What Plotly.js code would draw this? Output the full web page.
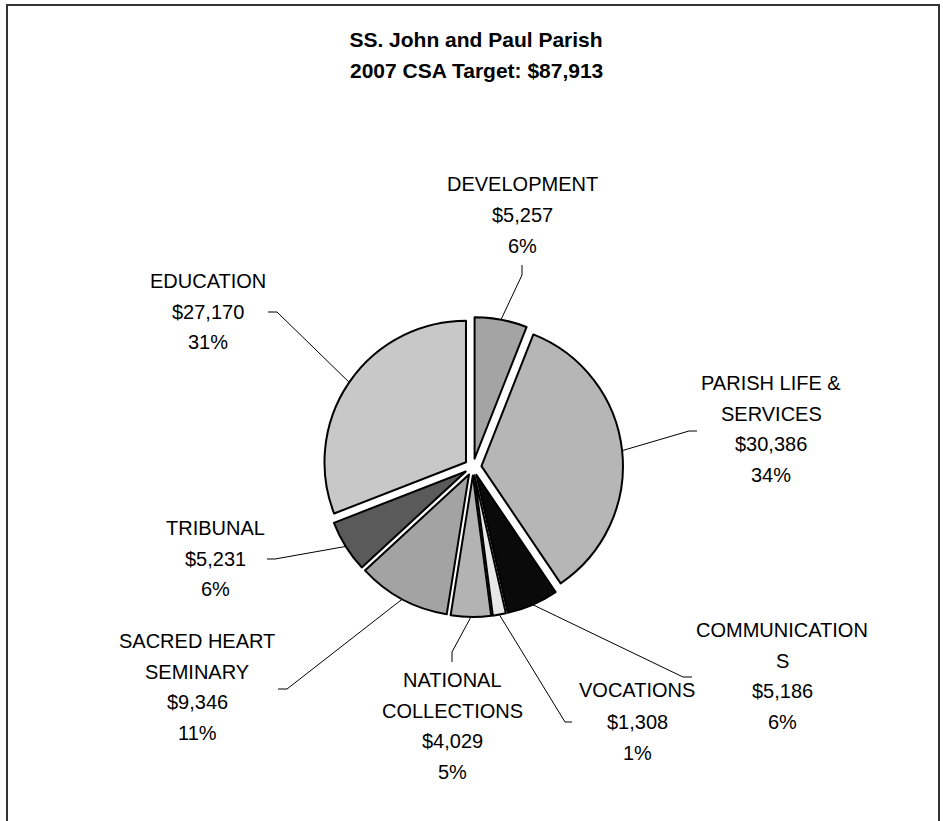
<!DOCTYPE html>
<html>
<head>
<meta charset="utf-8">
<script src="https://cdn.plot.ly/plotly-3.0.1.min.js"></script>
<style>html,body{margin:0;padding:0;background:#fff;}#chart{width:943px;height:821px;}</style>
</head>
<body>
<div id="chart"></div>
<script>
// ---- data ----
const categories = ["DEVELOPMENT", "PARISH LIFE &<br>SERVICES", "COMMUNICATION<br>S", "VOCATIONS",
                    "NATIONAL<br>COLLECTIONS", "SACRED HEART<br>SEMINARY", "TRIBUNAL", "EDUCATION"];
const values = [5257, 30386, 5186, 1308, 4029, 9346, 5231, 27170];
const percents = [6, 34, 6, 1, 5, 11, 6, 31];
const colors = ["#a4a4a4", "#b6b6b6", "#0a0a0a", "#e8e8e8", "#b3b3b3", "#a3a3a3", "#5a5a5a", "#c8c8c8"];
const titleLine1 = "SS. John and Paul Parish";
const titleLine2 = "2007 CSA Target: $87,913";

// ---- layout constants (pixels) ----
const W = 943, H = 821;
const cx = 473, cy = 467, half = 150, pull = 0.06;
// label centre x, first-line centre y, line step; leader start and elbow
const labelPos = [
  {x: 522, y: 184, s: 31, p0: [522, 265], p1: [522, 275]},
  {x: 771, y: 383, s: 30.7, p0: [697, 431], p1: [689, 431]},
  {x: 782, y: 630, s: 30.7, p0: [692, 677], p1: [683, 677]},
  {x: 637, y: 690, s: 31.5, p0: [572, 722], p1: [565, 722]},
  {x: 452, y: 680, s: 30.5, p0: [452, 662], p1: [452, 652]},
  {x: 197, y: 641, s: 30.7, p0: [278, 689], p1: [287, 689]},
  {x: 215, y: 528, s: 30.5, p0: [267, 559], p1: [275, 559]},
  {x: 208, y: 281, s: 30.5, p0: [268, 312], p1: [277, 312]}
];

const px = x => x / W;
const py = y => 1 - y / H;
const font = {family: "Liberation Sans, Arial, sans-serif", size: 20, color: "#000"};

const total = values.reduce((a, b) => a + b, 0);
let cum = 0;
const annotations = [];
const shapes = [];
values.forEach((v, i) => {
  const mid = (cum + v / 2) / total * 2 * Math.PI; // clockwise from 12 o'clock
  cum += v;
  const tip = [cx + half * Math.sin(mid), cy - half * Math.cos(mid)];
  const L = labelPos[i];
  const lines = categories[i].split("<br>").concat(["$" + v.toLocaleString("en-US"), percents[i] + "%"]);
  lines.forEach((t, k) => {
    annotations.push({text: t, x: px(L.x), y: py(L.y + k * L.s), xref: "paper", yref: "paper",
      xanchor: "center", yanchor: "middle", showarrow: false, font: font});
  });
  shapes.push({type: "path", xref: "paper", yref: "paper",
    path: `M ${px(L.p0[0])} ${py(L.p0[1])} L ${px(L.p1[0])} ${py(L.p1[1])} L ${px(tip[0])} ${py(tip[1])}`,
    line: {color: "#000", width: 1}});
});

annotations.push({text: titleLine2, x: px(476), y: py(70), xref: "paper", yref: "paper",
  xanchor: "center", yanchor: "middle", showarrow: false,
  font: {family: "Liberation Sans, Arial, sans-serif", size: 21, color: "#000", weight: 700}});

shapes.push({type: "rect", xref: "paper", yref: "paper", x0: px(7), x1: px(939), y0: py(5), y1: py(840),
  line: {color: "#333", width: 2}, fillcolor: "rgba(0,0,0,0)"});

const trace = {
  type: "pie",
  values: values,
  labels: categories,
  sort: false,
  direction: "clockwise",
  rotation: 0,
  pull: pull,
  textinfo: "none",
  hoverinfo: "none",
  marker: {colors: colors, line: {color: "#000", width: 2}},
  domain: {x: [px(cx - half), px(cx + half)], y: [py(cy + half), py(cy - half)]},
  showlegend: false
};

const layout = {
  width: W, height: H,
  margin: {l: 0, r: 0, t: 0, b: 0},
  paper_bgcolor: "#fff",
  plot_bgcolor: "#fff",
  showlegend: false,
  title: {text: titleLine1, x: px(476), xanchor: "center", xref: "paper", y: py(40), yref: "paper", yanchor: "middle",
    font: {family: "Liberation Sans, Arial, sans-serif", size: 21, color: "#000", weight: 700}},
  annotations: annotations,
  shapes: shapes
};

Plotly.newPlot("chart", [trace], layout, {displayModeBar: false, staticPlot: true});
</script>
</body>
</html>
